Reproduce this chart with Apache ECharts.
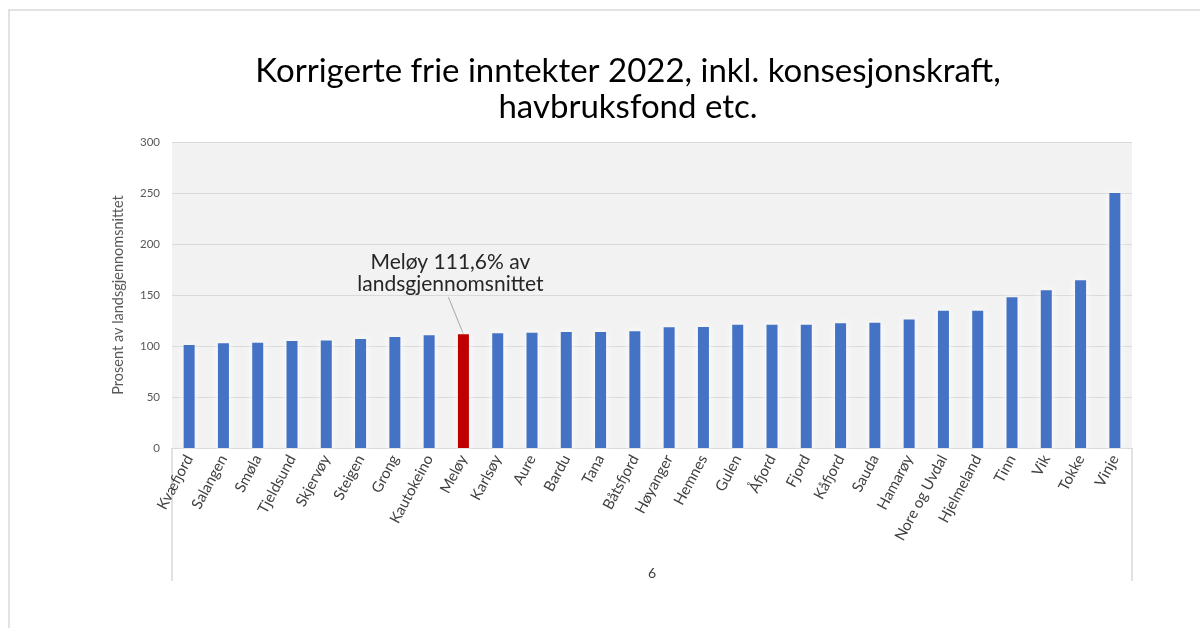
<!DOCTYPE html>
<html>
<head>
<meta charset="utf-8">
<title>Korrigerte frie inntekter 2022</title>
<script src="https://cdn.jsdelivr.net/npm/echarts@6/dist/echarts.min.js"></script>
<style>
  html, body { margin: 0; padding: 0; background: #fff; }
  #chart { width: 1200px; height: 628px; }
</style>
</head>
<body>
<div id="chart"></div>
<script>
// kommuner, sortert stigende
const kommuner = [
  'Kvæfjord', 'Salangen', 'Smøla', 'Tjeldsund', 'Skjervøy', 'Steigen', 'Grong',
  'Kautokeino', 'Meløy', 'Karlsøy', 'Aure', 'Bardu', 'Tana', 'Båtsfjord',
  'Høyanger', 'Hemnes', 'Gulen', 'Åfjord', 'Fjord', 'Kåfjord', 'Sauda',
  'Hamarøy', 'Nore og Uvdal', 'Hjelmeland', 'Tinn', 'Vik', 'Tokke', 'Vinje'
];
// prosent av landsgjennomsnittet (lest av figuren)
const prosent = [
  101, 102.6, 103.2, 104.9, 105.5, 106.8, 108.8,
  110.5, 111.6, 112.4, 113, 113.7, 113.7, 114.4,
  118.3, 118.6, 120.9, 120.9, 120.9, 122.2, 122.9,
  126.1, 134.6, 134.6, 147.7, 154.6, 164.4, 250
];
const gruppe = ['6'];
const yTicks = { min: 0, max: 300, interval: 50 };
const fremhevet = 'Meløy';
const merknad = 'Meløy 111,6% av\nlandsgjennomsnittet';

const chart = echarts.init(document.getElementById('chart'));

const option = {
  backgroundColor: '#ffffff',
  animation: false,
  title: {
    text: 'Korrigerte frie inntekter 2022, inkl. konsesjonskraft,\nhavbruksfond etc.',
    left: 623,
    top: 48,
    textAlign: 'center',
    textStyle: {
      fontFamily: 'Lato',
      fontSize: 33,
      fontWeight: 'normal',
      color: '#000000',
      lineHeight: 36
    }
  },
  grid: {
    left: 172,
    right: 68,
    top: 142,
    bottom: 180,
    show: true,
    backgroundColor: '#f2f2f2',
    borderWidth: 0
  },
  xAxis: [
    {
      type: 'category',
      data: kommuner,
      axisLine: { lineStyle: { color: '#d9d9d9', width: 1 } },
      axisTick: { show: false },
      axisLabel: {
        interval: 0,
        rotate: 62,
        margin: 8,
        fontFamily: 'Lato',
        fontSize: 15,
        color: '#404040'
      }
    },
    {
      // ytre kategorinivå
      type: 'category',
      data: gruppe,
      position: 'bottom',
      axisLine: { show: false },
      axisTick: {
        show: true,
        length: 133,
        lineStyle: { color: '#d9d9d9', width: 1.5 }
      },
      axisLabel: {
        margin: 118,
        fontFamily: 'Lato',
        fontSize: 14,
        color: '#404040'
      }
    }
  ],
  yAxis: {
    type: 'value',
    min: yTicks.min,
    max: yTicks.max,
    interval: yTicks.interval,
    name: 'Prosent av landsgjennomsnittet',
    nameLocation: 'middle',
    nameGap: 46,
    nameTextStyle: { fontFamily: 'Lato', fontSize: 14.5, color: '#595959' },
    axisLine: { show: false },
    axisTick: { show: false },
    axisLabel: { fontFamily: 'Lato', fontSize: 11.5, color: '#595959', margin: 12 },
    splitLine: { lineStyle: { color: '#d9d9d9', width: 1 } }
  },
  series: [
    {
      type: 'bar',
      xAxisIndex: 0,
      barWidth: 11,
      data: prosent.map((v, i) => ({
        value: v,
        itemStyle: { color: kommuner[i] === fremhevet ? '#c00000' : '#4472c4' }
      })),
      itemStyle: {
        shadowColor: 'rgba(255,255,255,1)',
        shadowBlur: 10
      }
    }
  ]
};

chart.setOption(option);

// merknad med ledelinje mot Meløy-søylen
const idx = kommuner.indexOf(fremhevet);
const topp = chart.convertToPixel({ xAxisIndex: 0, yAxisIndex: 0 }, [idx, prosent[idx]]);
chart.setOption({
  graphic: [
    {
      type: 'rect',
      silent: true,
      shape: { x: 9, y: 10, width: 1300, height: 700 },
      style: { fill: 'none', stroke: '#d9d9d9', lineWidth: 1.5 }
    },
    {
      type: 'line',
      silent: true,
      shape: { x1: topp[0], y1: topp[1], x2: topp[0] - 15, y2: topp[1] - 37 },
      style: { stroke: '#a6a6a6', lineWidth: 1 }
    },
    {
      type: 'text',
      silent: true,
      x: topp[0] - 13,
      y: topp[1] - 61,
      style: {
        text: merknad,
        align: 'center',
        verticalAlign: 'middle',
        font: '21px Lato',
        lineHeight: 22,
        fill: '#262626'
      }
    }
  ]
});
</script>
</body>
</html>
